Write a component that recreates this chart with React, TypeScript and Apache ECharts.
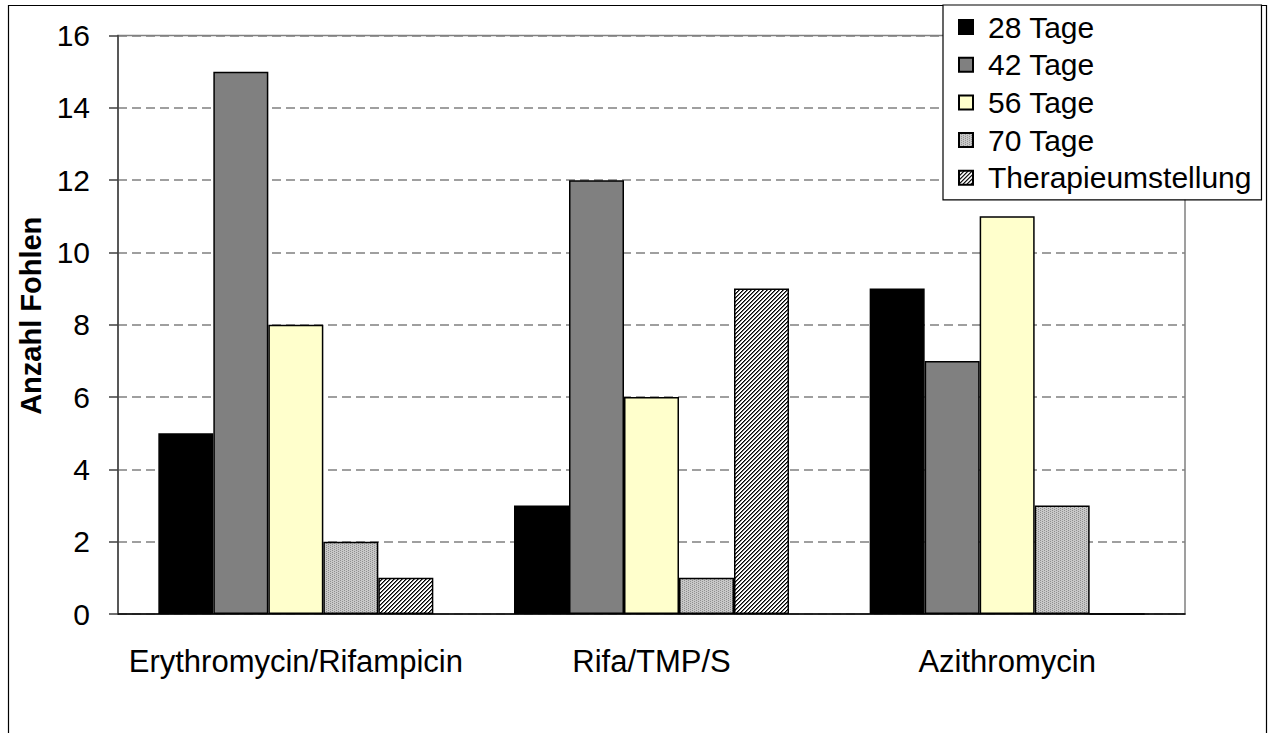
import React, { useEffect, useRef } from "react";
import * as echarts from "echarts";

const categories = ["Erythromycin/Rifampicin", "Rifa/TMP/S", "Azithromycin"];
const seriesNames = ["28 Tage", "42 Tage", "56 Tage", "70 Tage", "Therapieumstellung"];
const tage28 = [5, 3, 9];
const tage42 = [15, 12, 7];
const tage56 = [8, 6, 11];
const tage70 = [2, 1, 3];
const umstellung = [1, 9, 0];
const yTicks = { min: 0, max: 16, interval: 2 };

const FONT = "'Liberation Sans', Arial, sans-serif";

// fine dotted grey texture
function dottedPattern(): HTMLCanvasElement {
  const c = document.createElement("canvas");
  c.width = 4;
  c.height = 4;
  const ctx = c.getContext("2d")!;
  ctx.fillStyle = "#c8c8c8";
  ctx.fillRect(0, 0, 4, 4);
  ctx.fillStyle = "#8e8e8e";
  [[0, 0], [0, 2], [2, 1], [2, 3]].forEach(([x, y]) => ctx.fillRect(x, y, 1, 1));
  return c;
}

// dense diagonal hatching
function hatchPattern(): HTMLCanvasElement {
  const c = document.createElement("canvas");
  c.width = 4;
  c.height = 4;
  const ctx = c.getContext("2d")!;
  ctx.fillStyle = "#ffffff";
  ctx.fillRect(0, 0, 4, 4);
  for (let x = 0; x < 4; x++) {
    for (let y = 0; y < 4; y++) {
      const k = (x + y) % 4;
      if (k === 0) {
        ctx.fillStyle = "#000000";
        ctx.fillRect(x, y, 1, 1);
      } else if (k === 1) {
        ctx.fillStyle = "#6a6a6a";
        ctx.fillRect(x, y, 1, 1);
      }
    }
  }
  return c;
}

export default function App() {
  const ref = useRef<HTMLDivElement>(null);

  useEffect(() => {
    if (!ref.current) return;
    const chart = echarts.init(ref.current, null, { renderer: "svg" });
    const fills: any[] = [
      "#000000",
      "#808080",
      "#ffffcc",
      { image: dottedPattern(), repeat: "repeat" },
      { image: hatchPattern(), repeat: "repeat" },
    ];
    const values = [tage28, tage42, tage56, tage70, umstellung];

    chart.setOption({
      animation: false,
      backgroundColor: "#ffffff",
      textStyle: { fontFamily: FONT },
      grid: {
        left: 118,
        right: 85,
        top: 35.5,
        bottom: 119,
        show: true,
        borderColor: "#808080",
        borderWidth: 1.5,
      },
      legend: {
        orient: "vertical",
        left: 943,
        top: 5,
        padding: [7, 10, 7, 15],
        icon: "rect",
        itemWidth: 14,
        itemHeight: 14,
        itemGap: 7.7,
        borderColor: "#000000",
        borderWidth: 1.2,
        backgroundColor: "#ffffff",
        textStyle: {
          fontSize: 30,
          fontFamily: FONT,
          color: "#000000",
          lineHeight: 30,
          padding: [0, 0, 0, 10],
        },
        data: seriesNames,
      },
      xAxis: {
        type: "category",
        data: categories,
        axisLine: { lineStyle: { color: "#000000", width: 1.5 } },
        axisTick: { length: 10, lineStyle: { color: "#555555", width: 1.5 } },
        axisLabel: {
          fontSize: 31,
          color: "#000000",
          margin: 32,
          fontFamily: FONT,
          interval: 0,
          hideOverlap: false,
        },
      },
      yAxis: {
        type: "value",
        min: yTicks.min,
        max: yTicks.max,
        interval: yTicks.interval,
        name: "Anzahl Fohlen",
        nameLocation: "middle",
        nameGap: 68,
        nameTextStyle: {
          fontSize: 29,
          fontWeight: "bold",
          color: "#000000",
          fontFamily: FONT,
          padding: [0, 0, 0, 18],
        },
        axisLine: { show: true, lineStyle: { color: "#404040", width: 1.5 } },
        axisTick: { show: true, length: 9, lineStyle: { color: "#404040", width: 1.5 } },
        axisLabel: { fontSize: 30, color: "#000000", margin: 28, fontFamily: FONT },
        splitLine: { lineStyle: { color: "#808080", type: [9, 5], width: 1.5 } },
      },
      graphic: [
        {
          type: "rect",
          shape: { x: 8.5, y: 5.5, width: 1258, height: 800 },
          style: { fill: "none", stroke: "#000000", lineWidth: 1.2 },
          z: -1,
          silent: true,
        },
      ],
      series: seriesNames.map((name, i) => ({
        name,
        type: "bar",
        data: values[i],
        barGap: "0%",
        barWidth: 55,
        itemStyle: { color: fills[i], borderColor: "#000000", borderWidth: 1.5 },
      })),
    });

    return () => chart.dispose();
  }, []);

  return (
    <div
      ref={ref}
      style={{ position: "fixed", left: 0, top: 0, width: 1270, height: 733 }}
    />
  );
}
